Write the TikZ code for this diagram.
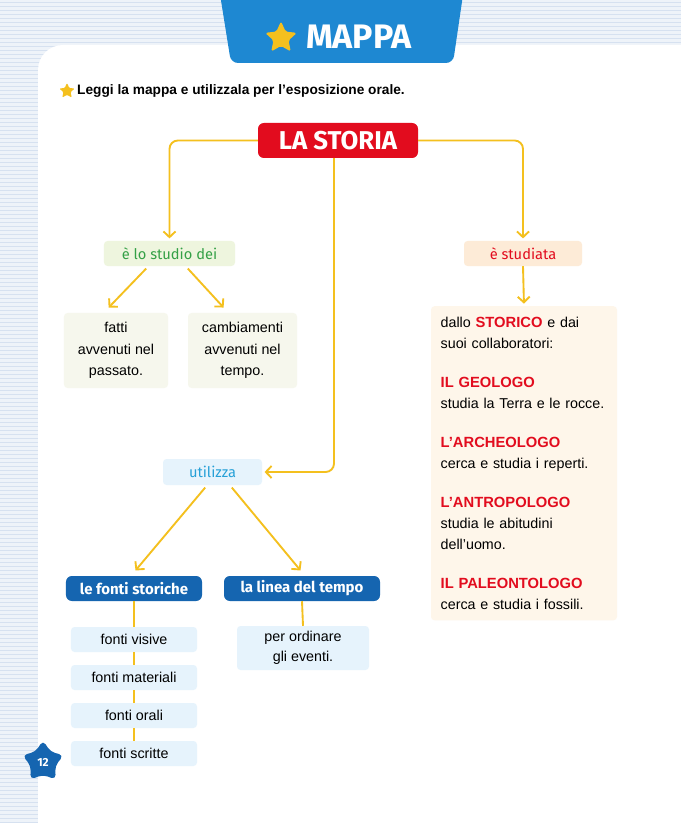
\documentclass[tikz,border=0pt]{standalone}
\usepackage{fontspec}
\setmainfont{Liberation Sans}
\newfontfamily\headfont{Fira Sans}
\usetikzlibrary{arrows.meta,positioning,shapes.geometric,calc}
\definecolor{mpyellow}{RGB}{244,192,30}
\definecolor{mpred}{RGB}{226,12,30}
\definecolor{mpblue}{RGB}{21,101,176}
\definecolor{mptab}{RGB}{30,136,210}
\definecolor{mpsky}{RGB}{38,160,215}
\definecolor{mpskyfill}{RGB}{230,243,252}
\definecolor{mpgreen}{RGB}{52,160,70}
\definecolor{mpgreenfill}{RGB}{238,245,222}
\definecolor{mpcream}{RGB}{246,247,237}
\definecolor{mppeach}{RGB}{253,235,215}
\definecolor{mpbeige}{RGB}{254,246,234}
\definecolor{mpstripebg}{RGB}{238,243,249}
\definecolor{mpstripe}{RGB}{214,225,240}
\newcommand\rosso[1]{\textcolor{mpred}{\bfseries\fontsize{12.6}{17.7}\selectfont #1}}
\tikzset{
  conn/.style={draw=mpyellow,line width=1.6pt,rounded corners=0.25cm},
  arrowed/.style={-{Straight Barb[length=1.7mm,width=3.6mm]},shorten >=2pt},
  softbox/.style={rounded corners=3pt,inner sep=2pt,align=center},
  headbox/.style={rounded corners=5pt,inner sep=2pt,text=white,align=center},
  labelfont/.style={font=\headfont\fontsize{12.5}{14}\selectfont},
  titlefont/.style={font=\headfont\bfseries\fontsize{12.8}{14}\selectfont}
}
\begin{document}
\begin{tikzpicture}[x=0.03cm,y=-0.03cm,font=\fontsize{12.2}{17.4}\selectfont]
  \useasboundingbox (0,0) rectangle (681,823);
  % striped page
  \fill[mpstripebg] (0,0) rectangle (681,823);
  \foreach \y in {2,6,...,822} \draw[mpstripe,line width=0.8pt] (0,\y) -- (681,\y);
  \fill[white,rounded corners=0.75cm] (38,45) rectangle (740,880);
  % title tab
  \fill[mptab,rounded corners=6pt] (219,-12) -- (231,63) -- (453,63) -- (464,-12) -- cycle;
  \node[star,star points=5,star point ratio=2.1,fill=mpyellow,minimum size=1cm,inner sep=0,rounded corners=1.5pt] (mapstar) at (281,38) {};
  \node[anchor=west,inner sep=0,text=white,font=\headfont\bfseries\fontsize{29}{29}\selectfont] (mappa) at (306,37) {MAPPA};
  % instruction
  \node[star,star points=5,star point ratio=2.1,fill=mpyellow,minimum size=0.48cm,inner sep=0,rounded corners=0.8pt] (istar) at (67,91) {};
  \node[anchor=west,inner sep=0,font=\bfseries\fontsize{11.7}{13}\selectfont] (intro) at (77,91) {Leggi la mappa e utilizzala per l'esposizione orale.};

  % main concept
  \node[headbox,fill=mpred,minimum width=4.8cm,minimum height=1.05cm,font=\headfont\bfseries\fontsize{22}{22}\selectfont] (storia) at (338,140.5) {LA STORIA};

  % left branch
  \node[softbox,labelfont,fill=mpgreenfill,text=mpgreen,minimum width=3.93cm,minimum height=0.75cm] (studio) at (169.5,253.5) {è lo studio dei};
  \node[softbox,fill=mpcream,minimum width=3.12cm,minimum height=2.25cm,font=\fontsize{12.2}{18.2}\selectfont] (fatti) at (116,350.5) {fatti\\avvenuti nel\\passato.};
  \node[softbox,fill=mpcream,minimum width=3.27cm,minimum height=2.25cm,font=\fontsize{12.2}{18.2}\selectfont] (cambi) at (242.5,350.5) {cambiamenti\\avvenuti nel\\tempo.};

  % right branch
  \node[softbox,labelfont,fill=mppeach,text=mpred,minimum width=3.54cm,minimum height=0.75cm] (studiata) at (523,253.5) {è studiata};
  \node[softbox,fill=mpbeige,minimum width=5.58cm,minimum height=9.42cm,text width=5.0cm,align=left,anchor=north,font=\fontsize{12.2}{17.7}\selectfont] (storico) at (524,306)
    {dallo \rosso{STORICO} e dai\\suoi collaboratori:\\[15.8pt]
     \rosso{IL GEOLOGO}\\studia la Terra e le rocce.\\[15.8pt]
     \rosso{L’ARCHEOLOGO}\\cerca e studia i reperti.\\[15.8pt]
     \rosso{L’ANTROPOLOGO}\\studia le abitudini\\dell’uomo.\\[15.8pt]
     \rosso{IL PALEONTOLOGO}\\cerca e studia i fossili.};

  % middle branch
  \node[softbox,labelfont,fill=mpskyfill,text=mpsky,minimum width=2.97cm,minimum height=0.78cm] (utilizza) at (212.5,472) {utilizza};
  \node[headbox,titlefont,fill=mpblue,minimum width=4.08cm,minimum height=0.75cm] (fonti) at (134,588.5) {le fonti storiche};
  \node[headbox,titlefont,fill=mpblue,minimum width=4.68cm,minimum height=0.75cm] (linea) at (302,588.5) {la linea del tempo};
  \foreach \n/\t/\y in {visive/fonti visive/639.5,materiali/fonti materiali/677.5,orali/fonti orali/715.5,scritte/fonti scritte/753.5}
    \node[softbox,fill=mpskyfill,minimum width=3.78cm,minimum height=0.75cm] (\n) at (134,\y) {\t};
  \node[softbox,fill=mpskyfill,minimum width=3.96cm,minimum height=1.32cm] (ordinare) at (303,648) {per ordinare\\gli eventi.};

  % connectors
  \draw[conn,arrowed] (storia.west) -| (studio.north);
  \draw[conn,arrowed] (storia.east) -| (studiata.north);
  \draw[conn,arrowed] ([xshift=-0.12cm]storia.south) |- (utilizza.east);
  \draw[conn,arrowed] ([xshift=-0.7cm,yshift=-2pt]studio.south) -- ([xshift=-0.27cm,yshift=3pt]fatti.north);
  \draw[conn,arrowed] ([xshift=0.55cm,yshift=-2pt]studio.south) -- ([xshift=-0.52cm,yshift=3pt]cambi.north);
  \draw[conn,arrowed] (studiata.south) -- (storico.north);
  \draw[conn,arrowed] ([xshift=-0.22cm,yshift=-2pt]utilizza.south) -- ([yshift=3pt]fonti.north);
  \draw[conn,arrowed] ([xshift=0.58cm,yshift=-2pt]utilizza.south) -- ([yshift=3pt]linea.north);
  \foreach \a/\b in {fonti/visive,visive/materiali,materiali/orali,orali/scritte}
    \draw[conn] (\a.south) -- (\b.north);
  \draw[conn] (linea.south) -- (ordinare.north);

  % page number
  \node[star,star points=5,star point ratio=1.7,fill=mpblue,minimum size=1.3cm,inner sep=0,rounded corners=4pt,text=white,font=\headfont\bfseries\fontsize{10}{10}\selectfont] (pagina) at (43,762) {12};
\end{tikzpicture}
\end{document}
